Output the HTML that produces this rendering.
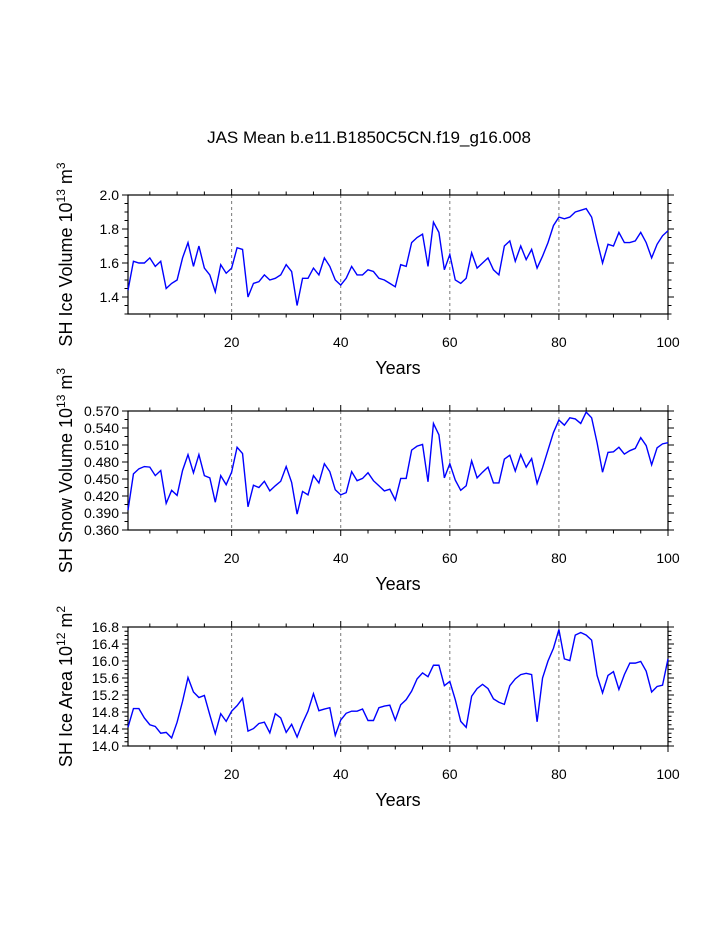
<!DOCTYPE html>
<html><head><meta charset="utf-8"><style>
body{margin:0;background:#fff}
svg text{font-family:"Liberation Sans",sans-serif;fill:#000}
</style></head><body>
<svg id="chart" width="723" height="935" xmlns="http://www.w3.org/2000/svg">
<text x="369" y="143" font-size="17" text-anchor="middle">JAS Mean b.e11.B1850C5CN.f19_g16.008</text>
</svg>
<script>
const years = Array.from({length:100},(_, i)=>i+1);
const iceVolume = [1.44,1.61,1.60,1.60,1.63,1.58,1.61,1.45,1.48,1.50,1.63,1.72,1.58,1.70,1.57,1.53,1.43,1.59,1.54,1.57,1.69,1.68,1.40,1.48,1.49,1.53,1.50,1.51,1.53,1.59,1.55,1.35,1.51,1.51,1.57,1.53,1.63,1.58,1.50,1.47,1.51,1.58,1.53,1.53,1.56,1.55,1.51,1.50,1.48,1.46,1.59,1.58,1.72,1.75,1.77,1.58,1.84,1.78,1.56,1.65,1.50,1.48,1.51,1.66,1.57,1.60,1.63,1.56,1.53,1.70,1.73,1.61,1.70,1.62,1.68,1.57,1.64,1.72,1.82,1.87,1.86,1.87,1.90,1.91,1.92,1.87,1.73,1.60,1.71,1.70,1.78,1.72,1.72,1.73,1.78,1.72,1.63,1.71,1.76,1.79];
const snowVolume = [0.395,0.459,0.468,0.472,0.471,0.456,0.465,0.407,0.430,0.421,0.465,0.493,0.461,0.493,0.456,0.452,0.409,0.456,0.440,0.462,0.506,0.495,0.401,0.439,0.435,0.446,0.429,0.438,0.446,0.472,0.444,0.388,0.428,0.422,0.456,0.443,0.477,0.463,0.431,0.422,0.426,0.463,0.447,0.451,0.461,0.447,0.438,0.429,0.432,0.413,0.451,0.451,0.501,0.508,0.511,0.445,0.548,0.528,0.452,0.477,0.448,0.430,0.438,0.482,0.452,0.462,0.471,0.443,0.443,0.485,0.492,0.464,0.493,0.471,0.486,0.442,0.470,0.501,0.532,0.554,0.545,0.558,0.556,0.548,0.568,0.558,0.514,0.462,0.497,0.498,0.506,0.494,0.500,0.504,0.523,0.509,0.475,0.505,0.512,0.514];
const iceArea = [14.44,14.88,14.88,14.66,14.50,14.46,14.30,14.32,14.19,14.56,15.05,15.61,15.27,15.14,15.19,14.73,14.29,14.76,14.58,14.82,14.95,15.12,14.35,14.41,14.53,14.56,14.31,14.76,14.66,14.32,14.51,14.21,14.54,14.82,15.23,14.83,14.87,14.90,14.25,14.61,14.77,14.82,14.82,14.87,14.60,14.60,14.90,14.94,14.96,14.61,14.97,15.09,15.29,15.58,15.72,15.63,15.90,15.90,15.42,15.52,15.09,14.58,14.44,15.17,15.35,15.45,15.35,15.11,15.03,14.98,15.42,15.58,15.68,15.71,15.68,14.57,15.60,16.00,16.30,16.74,16.05,16.01,16.61,16.67,16.61,16.49,15.66,15.25,15.66,15.75,15.33,15.68,15.95,15.95,15.99,15.76,15.27,15.40,15.43,16.05];
const xTicks = [20,40,60,80,100];
const ticks1 = ["1.4","1.6","1.8","2.0"];
const ticks2 = ["0.360","0.390","0.420","0.450","0.480","0.510","0.540","0.570"];
const ticks3 = ["14.0","14.4","14.8","15.2","15.6","16.0","16.4","16.8"];

const NS="http://www.w3.org/2000/svg";
const svg=document.getElementById('chart');
function mk(tag,attrs,parent){const e=document.createElementNS(NS,tag);for(const k in attrs)e.setAttribute(k,attrs[k]);(parent||svg).appendChild(e);return e;}
const X0=128,X1=668;
const xs=v=>X0+(v-1)/99*(X1-X0);

function panel(name,top,ymin,ymax,minorStep,yTicks,data,titleMain,titleExp,titleUnit){
  const bot=top+119;
  const ys=v=>bot-(v-ymin)/(ymax-ymin)*(bot-top);
  const g=mk('g',{});
  
  
  [20,40,60,80].forEach(v=>{
    const l=mk('line',{x1:xs(v),x2:xs(v),y1:top,y2:bot,stroke:'#777','stroke-width':1,'stroke-dasharray':'3,3'},g);
    
    
  });
  for(let v=5;v<=100;v+=5){
    const major=v%20===0;const len=major?6:3.5;
    mk('line',{x1:xs(v),x2:xs(v),y1:top,y2:top-len,stroke:'#000','stroke-width':1},g);
    mk('line',{x1:xs(v),x2:xs(v),y1:bot,y2:bot+len,stroke:'#000','stroke-width':1},g);
  }
  xTicks.forEach(v=>{
    const t=mk('text',{x:xs(v),y:bot+33,'font-size':14,'text-anchor':'middle'},g);t.textContent=v;
    
    
  });
  const n=Math.round((ymax-ymin)/minorStep);
  for(let i=0;i<=n;i++){const v=ymin+i*minorStep;
    mk('line',{x1:X0,x2:X0-3.5,y1:ys(v),y2:ys(v),stroke:'#000','stroke-width':1},g);
    mk('line',{x1:X1,x2:X1+3.5,y1:ys(v),y2:ys(v),stroke:'#000','stroke-width':1},g);}
  yTicks.forEach(s=>{const v=parseFloat(s);
    mk('line',{x1:X0,x2:X0-6,y1:ys(v),y2:ys(v),stroke:'#000','stroke-width':1},g);
    mk('line',{x1:X1,x2:X1+6,y1:ys(v),y2:ys(v),stroke:'#000','stroke-width':1},g);
    const t=mk('text',{x:X0-9,y:ys(v)+5,'font-size':14,'text-anchor':'end'},g);t.textContent=s;
    
    
  });
  mk('rect',{x:X0,y:top,width:X1-X0,height:bot-top,fill:'none',stroke:'#000','stroke-width':1.2},g);
  const pts=data.map((v,i)=>xs(years[i])+','+ys(v)).join(' ');
  const pl=mk('polyline',{points:pts,fill:'none',stroke:'#0000ff','stroke-width':1.4},g);
  
  
  const xt=mk('text',{x:398,y:bot+60,'font-size':18,'text-anchor':'middle'},g);xt.textContent='Years';
  
  
  const cy=(top+bot)/2;
  const yt=mk('text',{x:0,y:0,'font-size':18,'text-anchor':'middle',transform:`translate(72,${cy}) rotate(-90)`},g);
  
  
  const a=document.createElementNS(NS,'tspan');a.textContent=titleMain;yt.appendChild(a);
  const b=document.createElementNS(NS,'tspan');b.setAttribute('dy','-7');b.setAttribute('font-size','12');b.textContent=titleExp;yt.appendChild(b);
  const c=document.createElementNS(NS,'tspan');c.setAttribute('dy','7');c.textContent=' m';yt.appendChild(c);
  const d=document.createElementNS(NS,'tspan');d.setAttribute('dy','-7');d.setAttribute('font-size','12');d.textContent=titleUnit;yt.appendChild(d);
}
panel('ice-volume',195,1.3,2.0,0.05,ticks1,iceVolume,'SH Ice Volume 10','13','3');
panel('snow-volume',411,0.36,0.57,0.015,ticks2,snowVolume,'SH Snow Volume 10','13','3');
panel('ice-area',627,14.0,16.8,0.1,ticks3,iceArea,'SH Ice Area 10','12','2');
</script>
</body></html>
